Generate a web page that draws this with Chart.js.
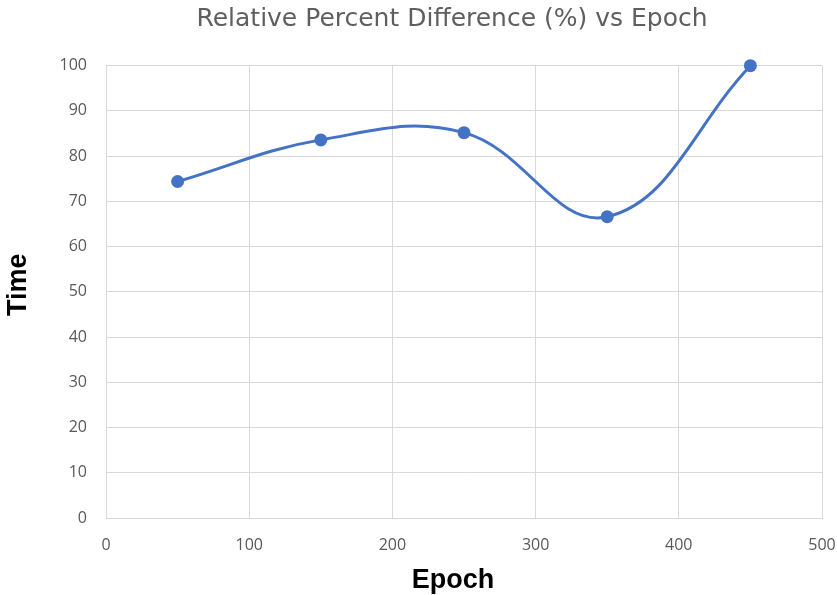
<!DOCTYPE html>
<html>
<head>
<meta charset="utf-8">
<script src="https://cdn.jsdelivr.net/npm/chart.js@4.4.1/dist/chart.umd.min.js"></script>
<style>
  html, body { margin: 0; padding: 0; background: #ffffff; }
  #wrap { width: 837px; height: 595px; position: relative; }
</style>
</head>
<body>
<div id="wrap"><canvas id="c" width="837" height="595"></canvas></div>
<script>
const titleText = "Relative Percent Difference (%) vs Epoch";
const xAxisTitle = "Epoch";
const yAxisTitle = "Time";
const epochs = [50, 150, 250, 350, 450];
const timeValues = [74.4, 83.6, 85.2, 66.6, 100];
const xTicks = [0, 100, 200, 300, 400, 500];
const yTicks = [0, 10, 20, 30, 40, 50, 60, 70, 80, 90, 100];

const points = epochs.map((x, i) => ({ x: x, y: timeValues[i] }));
const gridColor = '#d9d9d9';
const tickColor = '#595959';

// place chart title and axis titles like the reference
const titlePlacement = {
  id: 'titlePlacement',
  afterLayout(chart) {
    const tb = chart.titleBlock;
    if (tb) {
      const w = tb.right - tb.left;
      const cx = 452;
      tb.left = cx - w / 2;
      tb.right = cx + w / 2;
    }
    const shiftTitle = (scale, prop1, prop2, d) => {
      if (!scale || scale._shiftWrapped) return;
      const orig = scale.drawTitle;
      scale.drawTitle = function () {
        const a = this[prop1], b = this[prop2];
        this[prop1] = a + d; this[prop2] = b + d;
        orig.apply(this, arguments);
        this[prop1] = a; this[prop2] = b;
      };
      scale._shiftWrapped = true;
    };
    shiftTitle(chart.scales.x, 'left', 'right', -11);
    shiftTitle(chart.scales.y, 'top', 'bottom', -7);
  }
};

new Chart(document.getElementById('c'), {
  type: 'scatter',
  data: {
    datasets: [{
      data: points,
      showLine: true,
      borderColor: '#4472C4',
      backgroundColor: '#4472C4',
      borderWidth: 3,
      pointRadius: 6.5,
      pointHoverRadius: 6.5,
      pointBorderWidth: 0,
      tension: 0.4,
      clip: false
    }]
  },
  plugins: [titlePlacement],
  options: {
    responsive: false,
    animation: false,
    devicePixelRatio: 1,
    layout: { padding: { left: 0, right: 0, top: 0, bottom: 0 } },
    plugins: {
      legend: { display: false },
      tooltip: { enabled: false },
      title: {
        display: true,
        text: titleText,
        color: '#5f5f5f',
        fullSize: false,
        font: { family: "'DejaVu Sans', sans-serif", size: 25, weight: 'normal', lineHeight: 1.2 },
        padding: { top: 4, bottom: 31.7 }
      }
    },
    scales: {
      x: {
        type: 'linear',
        min: 0,
        max: 500,
        afterBuildTicks: (axis) => { axis.ticks = xTicks.map(v => ({ value: v })); },
        afterFit: (axis) => { axis.height = 77; axis.paddingRight = 15; axis.paddingLeft = 0; },
        grid: { color: gridColor, lineWidth: 1, drawTicks: false },
        border: { color: gridColor, width: 1 },
        ticks: {
          color: tickColor,
          padding: 18,
          font: { family: "'Open Sans', sans-serif", size: 16 }
        },
        title: {
          display: true,
          text: xAxisTitle,
          color: '#000000',
          font: { family: "'Liberation Sans', sans-serif", size: 27, weight: 'bold', lineHeight: 1.1 },
          padding: { top: 0, bottom: 0 }
        }
      },
      y: {
        type: 'linear',
        min: 0,
        max: 100,
        afterBuildTicks: (axis) => { axis.ticks = yTicks.map(v => ({ value: v })); },
        afterFit: (axis) => { axis.width = 106; },
        grid: { color: gridColor, lineWidth: 1, drawTicks: false },
        border: { color: gridColor, width: 1 },
        ticks: {
          color: tickColor,
          padding: 19,
          font: { family: "'Open Sans', sans-serif", size: 16 }
        },
        title: {
          display: true,
          text: yAxisTitle,
          color: '#000000',
          font: { family: "'Liberation Sans', sans-serif", size: 27, weight: 'bold', lineHeight: 1.1 },
          padding: { top: 4, bottom: 0 }
        }
      }
    }
  }
});
</script>
</body>
</html>
